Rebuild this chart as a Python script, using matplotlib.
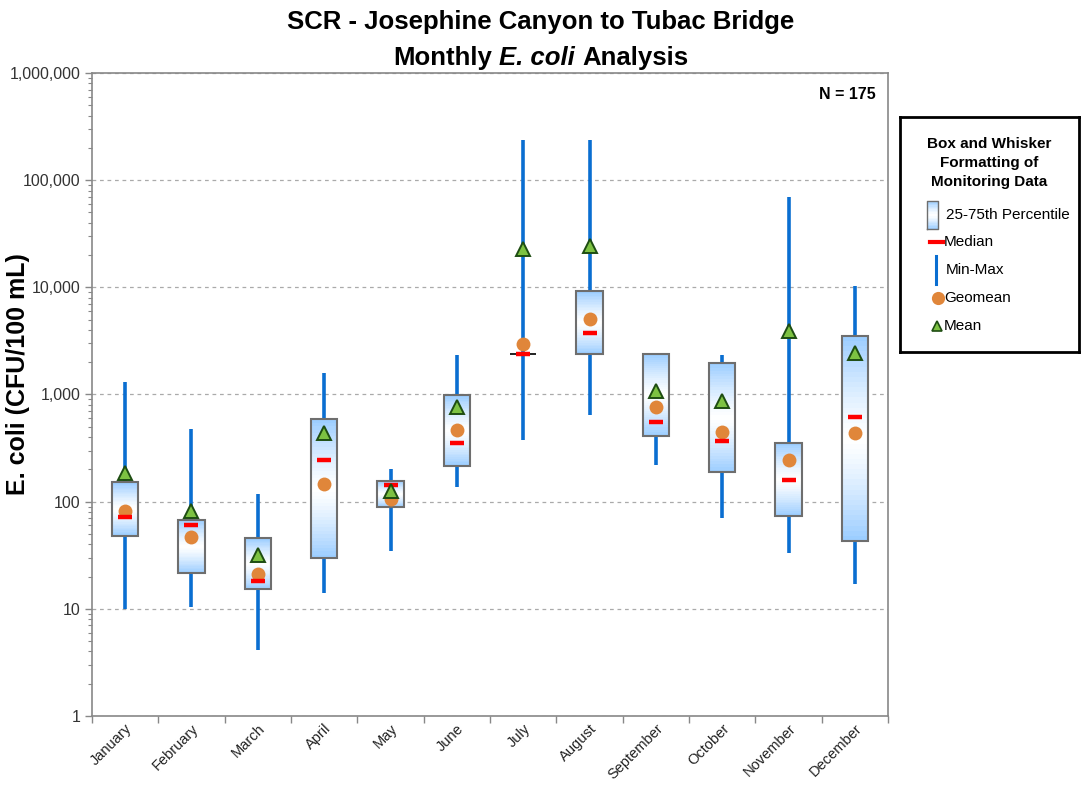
import numpy as np
import matplotlib
matplotlib.use('Agg')
import matplotlib.pyplot as plt
from matplotlib.ticker import FuncFormatter, LogLocator, FixedLocator, NullFormatter

plt.rcParams['font.family'] = ['Liberation Sans', 'DejaVu Sans']

# monthly E. coli summary (CFU/100 mL)
months = ['January', 'February', 'March', 'April', 'May', 'June', 'July',
          'August', 'September', 'October', 'November', 'December']
q1 = [48, 21.5, 15.3, 29.5, 89, 215, 2400, 2390, 413, 188, 73, 43]
q3 = [152, 68, 45.5, 590, 156, 982, 2400, 9240, 2390, 1980, 355, 3515]
median = [72, 60, 18.2, 245, 143, 355, 2380, 3725, 558, 370, 159, 617]
geomean = [82, 47, 21, 145, 107, 469, 2960, 5060, 765, 447, 245, 441]
mean = [184, 82, 32, 434, 126, 769, 22800, 24300, 1084, 869, 3940, 2420]
vmin = [9.9, 10.3, 4.1, 14, 35, 137, 376, 649, 218, 70, 33, 17]
vmax = [1310, 476, 119, 1577, 200, 2336, 237000, 237000, 2390, 2336, 70100, 10350]
n_samples = 175

BLUE_EDGE = np.array([0.60, 0.80, 1.00])
WHITE = np.array([1.0, 1.0, 1.0])
WHISKER = '#0A6ED1'
MEDIAN = '#FF0000'
GEO = '#E0863A'
MEAN_FACE = '#7DC242'
MEAN_EDGE = '#1E4D12'
BOX_EDGE = '#6E6E6E'


def grad_color(f):
    """f in [0,1] from bottom to top of box -> light blue at ends, white in middle."""
    t = abs(2 * f - 1) ** 1.3
    return WHITE * (1 - t) + BLUE_EDGE * t


def centered_line(fig, y, parts, fontsize):
    """Place a line of mixed-style bold text centred on the figure."""
    r = fig.canvas.get_renderer()
    texts = [fig.text(0, y, s, fontsize=fontsize, fontweight='bold', fontstyle=st,
                      va='baseline') for s, st in parts]
    probe_a = fig.text(0, 0, 'a a', fontsize=fontsize, fontweight='bold')
    probe_b = fig.text(0, 0, 'aa', fontsize=fontsize, fontweight='bold')
    gap = probe_a.get_window_extent(r).width - probe_b.get_window_extent(r).width
    probe_a.remove()
    probe_b.remove()
    widths = [t.get_window_extent(r).width for t in texts]
    total = sum(widths) + gap * (len(texts) - 1)
    xpos = (fig.bbox.width - total) / 2
    for t, w in zip(texts, widths):
        t.set_x(xpos / fig.bbox.width)
        xpos += w + gap


fig = plt.figure(figsize=(10.81, 7.86), dpi=100)
ax = fig.add_axes([0.0851, 0.0891, 0.7364, 0.818])
x = np.arange(len(months))
width = 0.4

# whiskers
ax.vlines(x, vmin, vmax, color=WHISKER, lw=2.6, zorder=1)

# gradient boxes, sliced in log space
nsl = 40
for xi, lo, hi in zip(x, q1, q3):
    if hi <= lo:
        ax.hlines(lo, xi - width / 2, xi + width / 2, color='#222222', lw=1.4, zorder=3)
        continue
    edges = np.logspace(np.log10(lo), np.log10(hi), nsl + 1)
    cols = [grad_color((i + 0.5) / nsl) for i in range(nsl)]
    ax.bar(np.full(nsl, xi), edges[1:] - edges[:-1], bottom=edges[:-1], width=width,
           color=cols, linewidth=0, zorder=2)
    ax.bar(xi, hi - lo, bottom=lo, width=width, fill=False, edgecolor=BOX_EDGE,
           linewidth=1.5, zorder=3)

ax.plot(x, geomean, 'o', color=GEO, ms=10, mec='none', zorder=4)
ax.plot(x, median, '_', color=MEDIAN, ms=10, mew=3.2, zorder=5)
ax.plot(x, mean, '^', color=MEAN_FACE, mec=MEAN_EDGE, mew=1.4, ms=9.5, zorder=6)

ax.set_yscale('log')
ax.set_ylim(1, 1e6)
ax.set_xlim(-0.5, len(months) - 0.5)
ax.yaxis.set_major_locator(LogLocator(base=10, numticks=10))
ax.yaxis.set_minor_locator(LogLocator(base=10, subs=np.arange(2, 10), numticks=10))
ax.yaxis.set_major_formatter(FuncFormatter(lambda v, p: f'{v:,.0f}'))
ax.yaxis.set_minor_formatter(NullFormatter())
ax.tick_params(axis='y', which='major', length=5, width=1, color='#888888',
               labelsize=11.5, labelcolor='#333333')
ax.tick_params(axis='y', which='minor', length=3, width=0.8, color='#888888')
ax.yaxis.grid(True, which='major', linestyle=(0, (3, 3)), color='#AAAAAA', lw=0.9)
ax.set_axisbelow(True)

ax.xaxis.set_major_locator(FixedLocator(np.arange(-0.5, len(months), 1.0)))
ax.xaxis.set_major_formatter(NullFormatter())
ax.set_xticks(x, months, minor=True)
ax.tick_params(axis='x', which='major', length=5, width=1, color='#888888')
ax.tick_params(axis='x', which='minor', length=0, labelsize=10.5, labelcolor='#222222', pad=4)
for lab in ax.get_xticklabels(minor=True):
    lab.set_rotation(45)
    lab.set_ha('right')
    lab.set_rotation_mode('anchor')

for sp in ax.spines.values():
    sp.set_color('#888888')
    sp.set_linewidth(1.2)

fig.text(18 / 1081, 1 - 374 / 786, 'E. coli (CFU/100 mL)', rotation=90, ha='center',
         va='center', fontsize=18, fontweight='bold')
ax.text(0.985, 0.966, f'N = {n_samples}', transform=ax.transAxes, ha='right', va='center',
        fontsize=11.5, fontweight='bold')

centered_line(fig, 1 - 28.5 / 786, [('SCR - Josephine Canyon to Tubac Bridge', 'normal')], 18.5)
centered_line(fig, 1 - 65 / 786, [('Monthly', 'normal'), ('E. coli', 'italic'),
                                  ('Analysis', 'normal')], 18.5)

# hand-built legend in a pixel-coordinate axes
lg = fig.add_axes([900 / 1081, 1 - 352 / 786, 179 / 1081, 235 / 786])
lg.set_xlim(0, 179)
lg.set_ylim(235, 0)
lg.set_xticks([])
lg.set_yticks([])
for sp in lg.spines.values():
    sp.set_linewidth(2)
    sp.set_color('black')
lg.text(89, 46, 'Box and Whisker\nFormatting of\nMonitoring Data', ha='center', va='center',
        fontsize=11, fontweight='bold', linespacing=1.45)
ys = [98, 125, 153, 181, 209]
labels = ['25-75th Percentile', 'Median', 'Min-Max', 'Geomean', 'Mean']
nl = 20
yb = np.linspace(ys[0] + 14, ys[0] - 14, nl + 1)
for i in range(nl):
    lg.fill_between([27, 38], yb[i], yb[i + 1], color=grad_color((i + 0.5) / nl), lw=0)
lg.plot([27, 38, 38, 27, 27], [ys[0] + 14, ys[0] + 14, ys[0] - 14, ys[0] - 14, ys[0] + 14],
        color=BOX_EDGE, lw=1)
lg.plot([30, 43], [ys[1], ys[1]], color=MEDIAN, lw=3)
lg.plot([36, 36], [ys[2] - 14, ys[2] + 14], color=WHISKER, lw=2.2)
lg.plot(38, ys[3], 'o', color=GEO, ms=9.5, mec='none')
lg.plot(37, ys[4], '^', color=MEAN_FACE, mec=MEAN_EDGE, mew=1.2, ms=7.5)
for y, t in zip(ys, labels):
    xt = 46 if t in ('25-75th Percentile', 'Min-Max') else 44
    lg.text(xt, y, t, ha='left', va='center', fontsize=11)

fig.savefig('out.png', dpi=100, facecolor='white')
